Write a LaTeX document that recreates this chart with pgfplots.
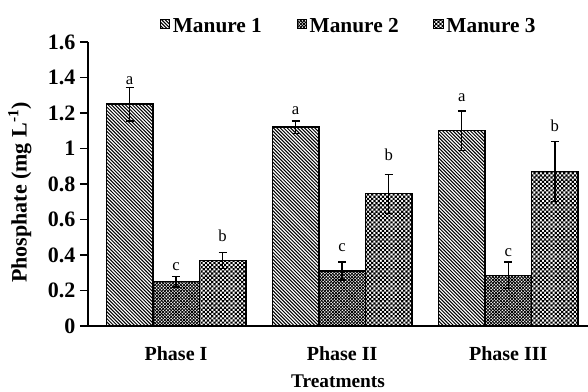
\documentclass[border=0pt]{standalone}
\usepackage{fontspec}
\setmainfont{Liberation Serif}
\usepackage{pgfplots}
\pgfplotsset{compat=1.18}
\usetikzlibrary{patterns}

\pgfdeclarepatternformonly{mstripes}{\pgfqpoint{-1pt}{-1pt}}{\pgfqpoint{3.6pt}{3.6pt}}{\pgfqpoint{2.6pt}{2.6pt}}{%
  \pgfsetlinewidth{0.75pt}%
  \pgfpathmoveto{\pgfqpoint{0pt}{2.6pt}}%
  \pgfpathlineto{\pgfqpoint{2.7pt}{-0.1pt}}%
  \pgfusepath{stroke}}
\pgfdeclarepatternformonly{mcross}{\pgfqpoint{-1pt}{-1pt}}{\pgfqpoint{3.4pt}{3.4pt}}{\pgfqpoint{2.4pt}{2.4pt}}{%
  \pgfsetlinewidth{0.55pt}%
  \pgfpathmoveto{\pgfqpoint{-0.1pt}{-0.1pt}}%
  \pgfpathlineto{\pgfqpoint{2.5pt}{2.5pt}}%
  \pgfpathmoveto{\pgfqpoint{-0.1pt}{2.5pt}}%
  \pgfpathlineto{\pgfqpoint{2.5pt}{-0.1pt}}%
  \pgfusepath{stroke}}
\pgfdeclarepatternformonly{mchecker}{\pgfqpoint{0pt}{0pt}}{\pgfqpoint{3.4pt}{3.4pt}}{\pgfqpoint{3.2pt}{3.2pt}}{%
  \pgfpathrectangle{\pgfqpoint{0pt}{0pt}}{\pgfqpoint{1.65pt}{1.65pt}}%
  \pgfpathrectangle{\pgfqpoint{1.6pt}{1.6pt}}{\pgfqpoint{1.65pt}{1.65pt}}%
  \pgfusepath{fill}}

\pgfplotsset{
  mybar/.style={
    ybar, bar width=0.28, bar shift=0,
    draw=black, line width=1.1pt,
    error bars/y dir=both, error bars/y explicit,
    error bars/error mark=|,
    error bars/error bar style={line width=1.1pt, black},
    error bars/error mark options={line width=1.1pt, black, mark size=3pt},
  },
  myleg/.style={
    legend image code/.code={\draw[draw=black, line width=0.8pt, pattern=#1] (0pt,-2.2pt) rectangle (7pt,4.8pt);}
  },
}

\begin{document}
\begin{tikzpicture}
\useasboundingbox (-66pt,-49.5pt) rectangle (375pt,244.5pt);
\begin{axis}[
  at={(0,0)}, anchor=south west,
  scale only axis, width=375pt, height=213pt,
  xmin=-0.53, xmax=2.48, ymin=0, ymax=1.6,
  axis lines=left, axis line style={-, line width=1.5pt},
  xtick={0,1,2}, xticklabels={Phase I,Phase II,Phase III},
  x tick style={draw=none},
  ytick={0,0.2,0.4,0.6,0.8,1,1.2,1.4,1.6},
  y tick style={line width=1.2pt, black},
  tick align=outside, major tick length=6pt,
  /pgf/number format/assume math mode=true,
  yticklabel style={font=\bfseries\fontsize{16.5}{17}\selectfont},
  xticklabel style={font=\bfseries\fontsize{15}{16}\selectfont, anchor=base, yshift=-19.5pt},
  xlabel={Treatments}, ylabel={Phosphate (mg L\textsuperscript{-1})},
  every axis x label/.style={at={(axis description cs:0.5,0)}, yshift=-46pt, anchor=base,
    font=\bfseries\fontsize{14.5}{15}\selectfont},
  every axis y label/.style={at={(axis description cs:0,0.47)}, xshift=-46pt, rotate=90, anchor=base,
    font=\bfseries\fontsize{16.5}{17}\selectfont},
  legend style={at={(0.522,1)}, anchor=center, yshift=12pt, draw=none, fill=none,
    font=\bfseries\fontsize{16}{17}\selectfont, legend columns=3,
    /tikz/every even column/.append style={column sep=24pt}},
]
\addplot[mybar, pattern=mstripes, myleg=mstripes] coordinates {
  (-0.28,1.25) +- (0,0.095)
  (0.72,1.12) +- (0,0.035)
  (1.72,1.10) +- (0,0.11)
};
\addlegendentry{Manure 1}
\addplot[mybar, pattern=mcross, myleg=mcross] coordinates {
  (0,0.25) +- (0,0.03)
  (1,0.31) +- (0,0.05)
  (2,0.285) +- (0,0.075)
};
\addlegendentry{Manure 2}
\addplot[mybar, pattern=mchecker, myleg=mchecker] coordinates {
  (0.28,0.37) +- (0,0.045)
  (1.28,0.745) +- (0,0.11)
  (2.28,0.87) +- (0,0.17)
};
\addlegendentry{Manure 3}
\addplot[draw=none, mark=none, forget plot, nodes near coords, point meta=explicit symbolic,
  every node near coord/.append style={anchor=base, inner sep=0pt, font=\fontsize{12.5}{13}\selectfont}]
  coordinates {
  (-0.28,1.363) [a] (0,0.312) [c] (0.28,0.475) [b]
  (0.72,1.189) [a] (1,0.419) [c] (1.28,0.935) [b]
  (1.72,1.264) [a] (2,0.394) [c] (2.28,1.095) [b]
};
\end{axis}
\end{tikzpicture}
\end{document}
